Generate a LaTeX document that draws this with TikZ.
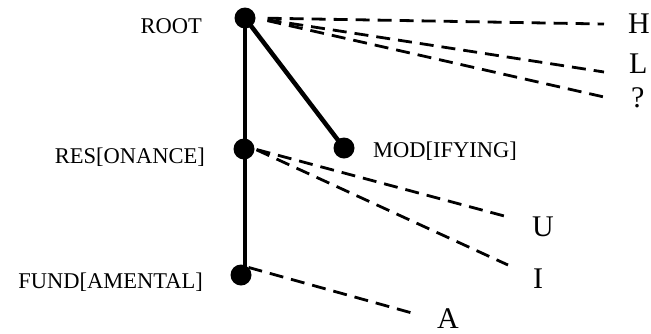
\documentclass[tikz,border=0pt]{standalone}
\usepackage{fontspec}
\setmainfont{Liberation Serif}
\begin{document}
\begin{tikzpicture}[x=1pt,y=-1pt,
  dot/.style={circle,fill=black,minimum size=21pt,inner sep=0pt},
  lab/.style={inner sep=0pt,font=\fontsize{22.5}{24}\selectfont},
  seg/.style={inner sep=0pt,font=\fontsize{30}{32}\selectfont},
  branch/.style={line width=4.5pt},
  tier/.style={line width=2.8pt,dash pattern=on 14pt off 8pt}]
\useasboundingbox (0,0) rectangle (651,333);

% feature-geometry nodes
\node[dot] (root) at (245,18) {};
\node[dot] (res)  at (244,149) {};
\node[dot] (fund) at (241,275) {};
\node[dot] (mod)  at (344,148) {};

\node[lab,anchor=base east] (rootL) at (202,33)  {ROOT};
\node[lab,anchor=base east] (resL)  at (205,163) {RES[ONANCE]};
\node[lab,anchor=base east] (fundL) at (203,288) {FUND[AMENTAL]};
\node[lab,anchor=base west] (modL)  at (373,157) {MOD[IFYING]};

% segment labels
\node[seg,anchor=base west] (H) at (628,33)  {H};
\node[seg,anchor=base west] (L) at (629,73)  {L};
\node[seg,anchor=base west] (Q) at (631,107) {?};
\node[seg,anchor=base west] (U) at (532,236) {U};
\node[seg,anchor=base west] (I) at (533,288) {I};
\node[seg,anchor=base west] (A) at (437,328) {A};

% free ends of the association lines
\coordinate (hEnd) at (604,24);
\coordinate (lEnd) at (604,72);
\coordinate (qEnd) at (604,97);
\coordinate (uEnd) at (508,217);
\coordinate (iEnd) at (508,265);
\coordinate (aEnd) at (412,313);

% tree branches
\draw[branch] (root.center) -- (root.center |- fund.center);
\draw[branch] (root.center) -- (mod.center);

% association lines
\draw[tier,shorten <=12pt] (root.east) -- (hEnd);
\draw[tier,shorten <=12pt] (root.east) -- (lEnd);
\draw[tier,shorten <=12pt] (root.east) -- (qEnd);
\draw[tier,shorten <=2pt] (res.east) -- (uEnd);
\draw[tier,shorten <=2pt] (res.east) -- (iEnd);
\draw[tier] (fund.north east) -- (aEnd);
\end{tikzpicture}
\end{document}
